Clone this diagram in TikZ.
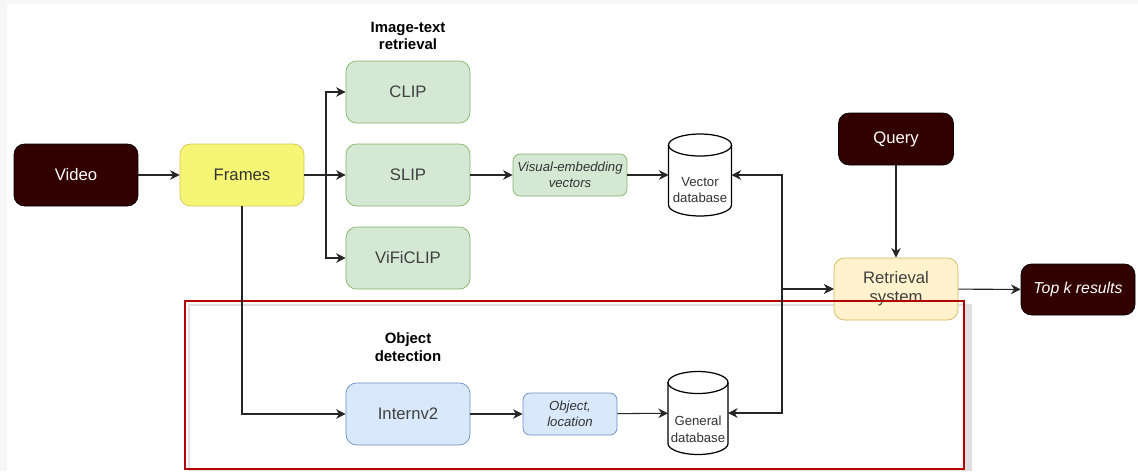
\documentclass[tikz,border=0pt]{standalone}
\usepackage{fontspec}
\setmainfont{Liberation Sans}
\usetikzlibrary{shapes.geometric,arrows.meta}
\definecolor{darkbox}{HTML}{330000}
\definecolor{yelfill}{HTML}{F6F676}
\definecolor{yeldraw}{HTML}{D6C656}
\definecolor{grnfill}{HTML}{D5E8D4}
\definecolor{grndraw}{HTML}{82B366}
\definecolor{blufill}{HTML}{DAE8FC}
\definecolor{bludraw}{HTML}{6C8EBF}
\definecolor{crmfill}{HTML}{FFF2CC}
\definecolor{crmdraw}{HTML}{D6B656}
\definecolor{framered}{HTML}{B20000}
\newcommand{\drawdb}[2]{%
  \draw[black,line width=0.7pt,fill=white]
    ([yshift=-0.22cm]#1.north west) -- ([yshift=0.22cm]#1.south west)
    arc[start angle=180,end angle=360,x radius=#2,y radius=0.22cm]
    -- ([yshift=-0.22cm]#1.north east)
    arc[start angle=0,end angle=180,x radius=#2,y radius=0.22cm] -- cycle;
  \draw[black,line width=0.7pt]
    ([yshift=-0.22cm]#1.north west)
    arc[start angle=180,end angle=360,x radius=#2,y radius=0.22cm];
}
\tikzset{
  x=0.02cm,y=-0.02cm,
  box/.style={rounded corners=6pt,draw,minimum width=2.48cm,minimum height=1.24cm,align=center,font=\fontsize{9.5}{11}\selectfont,inner sep=0pt},
  darknode/.style={box,fill=darkbox,draw=black,text=white},
  greennode/.style={box,fill=grnfill,draw=grndraw,text=black!75},
  smallbox/.style={rounded corners=4pt,draw,align=center,font=\fontsize{7.5}{9}\selectfont\itshape,inner sep=0pt,text=black!80},
  db/.style={rectangle,draw=none,inner sep=0pt,outer sep=0pt},
  dbtext/.style={align=center,font=\fontsize{7.5}{9.5}\selectfont,text=black!80,inner sep=0pt},
  heading/.style={align=center,font=\fontsize{8.5}{10}\selectfont\bfseries},
  conn/.style={draw=black!85,line width=0.6pt,-{Stealth[length=5.5pt,width=5.5pt]}},
  bconn/.style={draw=black!85,line width=0.6pt,{Stealth[length=5.5pt,width=5.5pt]}-{Stealth[length=5.5pt,width=5.5pt]}},
}
\begin{document}
\begin{tikzpicture}
\fill[black!3] (0,0) rectangle (1138,471);
\fill[white] (7,4) rectangle (1138,471);
\useasboundingbox (0,0) rectangle (1138,471);

% frame shadow
\fill[black!12] (188,304) rectangle (972,471);
\fill[white] (190,306) rectangle (964,469);

\node[darknode] (video) at (76,175) {Video};
\node[box,fill=yelfill,draw=yeldraw,text=black!80] (frames) at (242,175) {Frames};
\node[greennode] (clip) at (408,92) {CLIP};
\node[greennode] (slip) at (408,175) {SLIP};
\node[greennode] (vifi) at (408,258) {ViFiCLIP};
\node[heading] (h1) at (408,36) {Image-text\\retrieval};
\node[smallbox,fill=grnfill,draw=grndraw,minimum width=2.28cm,minimum height=0.84cm] (vev) at (570,175) {Visual-embedding\\vectors};
\node[db,minimum width=1.26cm,minimum height=1.64cm] (vdb) at (700,175) {};
\drawdb{vdb}{0.63cm}
\node[dbtext] (vdbt) at (700,190) {Vector\\database};
\node[darknode,minimum width=2.3cm,minimum height=1.04cm] (query) at (896,139) {Query};
\node[box,fill=crmfill,draw=crmdraw,text=black!75] (rs) at (896,289) {Retrieval\\system};
\node[darknode,minimum width=2.28cm,minimum height=1.02cm,font=\fontsize{9}{11}\selectfont\itshape] (topk) at (1078,289.5) {Top k results};

% red frame on top of retrieval box
\draw[framered,line width=1.3pt] (185,301) rectangle (964,469);

\node[heading] (h2) at (408,347) {Object\\detection};
\node[box,fill=blufill,draw=bludraw,text=black!75] (intern) at (408,414) {Internv2};
\node[smallbox,fill=blufill,draw=bludraw,minimum width=1.88cm,minimum height=0.84cm] (obj) at (570,414) {Object,\\location};
\node[db,minimum width=1.2cm,minimum height=1.66cm] (gdb) at (698,413) {};
\drawdb{gdb}{0.6cm}
\node[dbtext] (gdbt) at (698,429) {General\\database};

\coordinate (split) at (326,175);
\coordinate (junc) at (782,289);

\draw[conn] (video) -- (frames);
\draw[conn] (frames) -- (slip);
\draw[conn] (split) |- (clip.west);
\draw[conn] (split) |- (vifi.west);
\draw[conn] (slip) -- (vev);
\draw[conn] (vev) -- (vdb);
\draw[conn] (frames.south) |- (intern.west);
\draw[conn] (intern) -- (obj);
\draw[conn] (obj) -- (gdb);
\draw[bconn] (vdb.east) -| (junc) -- (rs.west);
\draw[bconn] (gdb.east) -| (junc) -- (rs.west);
\draw[conn] (query) -- (rs);
\draw[conn] (rs) -- (topk);
\end{tikzpicture}
\end{document}
